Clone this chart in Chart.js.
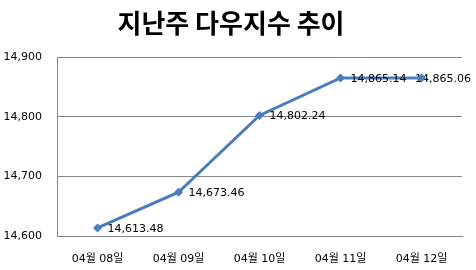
<!DOCTYPE html>
<html>
<head>
<meta charset="utf-8">
<script src="https://cdn.jsdelivr.net/npm/chart.js@4"></script>
<style>
html,body{margin:0;padding:0;background:#fff}
#wrap{width:476px;height:270px}
</style>
</head>
<body>
<div id="wrap"><canvas id="myChart" width="476" height="270"></canvas></div>
<script>
let dias=['04월 08일','04월 09일','04월 10일','04월 11일','04월 12일']
let valores=[14613.48, 14673.46, 14802.24, 14865.14, 14865.06]
let titulo='지난주 다우지수 추이'
let eixoMin=14600
let eixoMax=14900

const fonte='"DejaVu Sans", "Noto Sans CJK KR", sans-serif'
const azul='#4A7EBB'
const fmt=(v,d)=>v.toLocaleString('en-US',{minimumFractionDigits:d,maximumFractionDigits:d})

// rotulos desenhados depois da linha e antes dos marcadores
const rotulos={
    id:'rotulos',
    afterDatasetDraw(chart,args){
        if(args.index!==1) return
        const ctx=chart.ctx
        const meta=chart.getDatasetMeta(1)
        ctx.save()
        ctx.font='11px '+fonte
        ctx.fillStyle='#000'
        ctx.textBaseline='middle'
        ctx.textAlign='left'
        meta.data.forEach((p,i)=>{
            let txt=fmt(valores[i],2)
            let w=ctx.measureText(txt).width
            let x=Math.min(p.x+10,chart.width-5-w)
            ctx.fillText(txt,x,p.y+1)
        })
        ctx.restore()
    }
}

const ctx=document.getElementById('myChart')
new Chart(ctx,{
    type:'line',
    data:{
        labels:dias,
        datasets:[{
            data:valores,
            showLine:false,
            borderColor:azul,
            backgroundColor:azul,
            pointStyle:'rectRot',
            pointRadius:4.5,
            pointBorderWidth:0
        },{
            data:valores,
            borderColor:azul,
            backgroundColor:azul,
            borderWidth:3,
            pointRadius:0,
            tension:0
        }]
    },
    options:{
        responsive:false,
        animation:false,
        layout:{padding:{left:0,right:14,top:8,bottom:0}},
        plugins:{
            legend:{display:false},
            tooltip:{enabled:false},
            title:{
                display:true,
                text:titulo,
                color:'#000',
                font:{family:'"Noto Sans CJK KR", sans-serif',size:26,weight:'bold'},
                padding:{top:0,bottom:18}
            }
        },
        scales:{
            x:{
                offset:true,
                afterFit:(s)=>{s.height=34},
                grid:{display:false,drawTicks:false},
                border:{display:true,color:'#868686'},
                ticks:{color:'#000',padding:17,maxRotation:0,font:{family:fonte,size:11}}
            },
            y:{
                min:eixoMin,
                max:eixoMax,
                afterFit:(s)=>{s.width=57},
                grid:{color:'#868686',drawTicks:false},
                border:{display:true,color:'#868686'},
                ticks:{stepSize:100,color:'#000',padding:15,callback:(v)=>fmt(v,0),font:{family:fonte,size:11}}
            }
        }
    },
    plugins:[rotulos]
})
</script>
</body>
</html>
